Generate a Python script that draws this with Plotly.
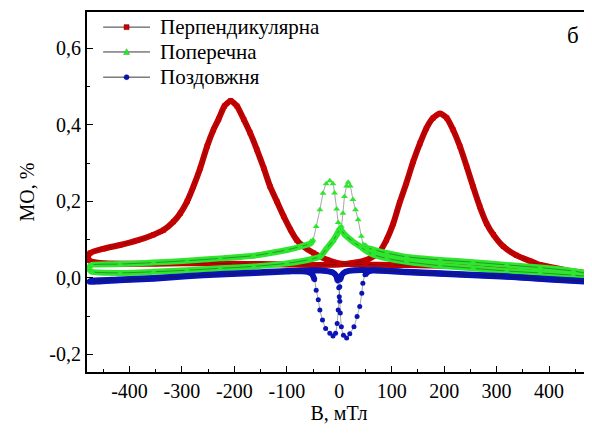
import plotly.graph_objects as go

# ---------------- data ----------------
# Перпендикулярна: sweep + -> -, then - -> +
RED_A_X = [475, 450, 400, 350, 300, 250, 200, 150, 100, 50, 25, 0, -23, -49, -68, -81, -93, -106, -119, -132,
           -144, -157, -170, -182, -195, -207, -219, -230, -240, -252, -265, -278, -290, -303, -316, -335, -354,
           -385, -418, -450, -475]
RED_A_Y = [0.012, 0.016, 0.023, 0.027, 0.029, 0.031, 0.032, 0.033, 0.034, 0.035, 0.036, 0.038, 0.047, 0.065,
           0.082, 0.099, 0.126, 0.161, 0.200, 0.239, 0.287, 0.335, 0.379, 0.414, 0.449, 0.463, 0.449, 0.415,
           0.387, 0.344, 0.287, 0.239, 0.200, 0.169, 0.147, 0.125, 0.113, 0.098, 0.086, 0.076, 0.065]
RED_B_X = [-479, -477, -468, -450, -400, -350, -300, -250, -200, -150, -100, -50, 0, 25, 50, 65, 77, 90, 103, 115,
           128, 141, 154, 166, 179, 192, 205, 217, 230, 243, 255, 268, 281, 294, 313, 338, 364, 383, 415, 446, 475]
RED_B_Y = [0.055, 0.046, 0.041, 0.038, 0.037, 0.037, 0.038, 0.038, 0.037, 0.036, 0.035, 0.034, 0.035, 0.039,
           0.046, 0.056, 0.069, 0.099, 0.142, 0.196, 0.248, 0.304, 0.352, 0.391, 0.418, 0.430, 0.418, 0.387,
           0.344, 0.291, 0.239, 0.186, 0.142, 0.113, 0.082, 0.059, 0.044, 0.034, 0.025, 0.016, 0.011]

# Поперечна
GREEN_A_X = [475, 446, 383, 319, 255, 192, 128, 90, 64, 52, 40, 26, 12, 4, 1, -2, -5, -9, -12, -18,
             -25, -31, -37, -44, -50, -55, -74, -100, -131, -163, -227, -290, -354, -418, -472]
GREEN_A_Y = [0.004, 0.007, 0.013, 0.018, 0.025, 0.032, 0.042, 0.051, 0.061, 0.070, 0.082, 0.095, 0.111,
             0.125, 0.132, 0.145, 0.180, 0.222, 0.246, 0.254, 0.246, 0.221, 0.178, 0.134, 0.099, 0.090,
             0.082, 0.073, 0.065, 0.058, 0.051, 0.045, 0.040, 0.036, 0.034]
GREEN_B_X = [-478, -472, -418, -354, -290, -227, -163, -100, -56, -36, -24, -12, -5, 1, 4, 7, 10, 14, 17, 21,
             26, 31, 36, 42, 46, 52, 65, 90, 128, 192, 255, 319, 383, 446, 475]
GREEN_B_Y = [0.025, 0.016, 0.013, 0.016, 0.020, 0.025, 0.030, 0.038, 0.048, 0.056, 0.077, 0.097, 0.113,
             0.128, 0.135, 0.169, 0.213, 0.240, 0.250, 0.240, 0.205, 0.178, 0.152, 0.109, 0.087, 0.079,
             0.074, 0.065, 0.055, 0.047, 0.041, 0.034, 0.027, 0.018, 0.011]

# Поздовжня
BLUE_A_X = [475, 400, 319, 255, 192, 128, 64, 30, 12, 5, 2, 1, 0, -2, -4, -7, -12, -18, -26, -32,
            -37, -40, -44, -47, -52, -60, -100, -160, -227, -290, -354, -420, -472]
BLUE_A_Y = [-0.010, -0.004, 0.003, 0.007, 0.011, 0.015, 0.020, 0.020, 0.016, 0.008, -0.005, -0.023, -0.049,
            -0.084, -0.119, -0.145, -0.152, -0.145, -0.132, -0.110, -0.084, -0.057, -0.032, -0.005, 0.010,
            0.016, 0.018, 0.014, 0.010, 0.005, 0.000, -0.004, -0.007]
BLUE_B_X = [-476, -420, -354, -290, -227, -160, -100, -50, -25, -12, -6, -3, -1, 1, 2, 4, 8, 14, 20, 28,
            34, 39, 43, 45, 49, 55, 64, 128, 192, 255, 319, 400, 475]
BLUE_B_Y = [-0.010, -0.006, -0.002, 0.004, 0.009, 0.013, 0.017, 0.020, 0.018, 0.014, 0.006, -0.008, -0.026,
            -0.061, -0.092, -0.128, -0.150, -0.157, -0.146, -0.128, -0.101, -0.075, -0.040, -0.014, 0.008,
            0.016, 0.020, 0.016, 0.012, 0.008, 0.004, -0.003, -0.009]

# index ranges (start, end) of the fast-changing parts where the reference shows sparse markers on a thin line
GREEN_A_SPARSE = (14, 24)
GREEN_B_SPARSE = (13, 24)
BLUE_A_SPARSE = (10, 23)
BLUE_B_SPARSE = (11, 24)

SERIES_NAMES = ["Перпендикулярна", "Поперечна", "Поздовжня"]

X_TICKS = [-400, -300, -200, -100, 0, 100, 200, 300, 400]
X_TICK_LABELS = ["-400", "-300", "-200", "-100", "0", "100", "200", "300", "400"]
X_MINOR = [-450, -350, -250, -150, -50, 50, 150, 250, 350, 450]
Y_TICKS = [-0.2, 0.0, 0.2, 0.4, 0.6]
Y_TICK_LABELS = ["-0,2", "0,0", "0,2", "0,4", "0,6"]
Y_MINOR = [-0.1, 0.1, 0.3, 0.5]

X_TITLE = "В, мТл"
Y_TITLE = "МО, %"
PANEL_LABEL = "б"

# ---------------- figure ----------------
FONT = "Liberation Serif"


def band(ys, sparse):
    """Copy of ys with the interior of the sparse range blanked (no thick band there)."""
    out = list(ys)
    if sparse:
        for i in range(sparse[0] + 1, sparse[1]):
            out[i] = None
    return out


series = [
    (SERIES_NAMES[0], RED_A_X, RED_A_Y, None, RED_B_X, RED_B_Y, None,
     "#c40000", "#900000", "square", 5),
    (SERIES_NAMES[1], GREEN_A_X, GREEN_A_Y, GREEN_A_SPARSE, GREEN_B_X, GREEN_B_Y, GREEN_B_SPARSE,
     "#2ee62e", "#1fb01f", "triangle-up", 6),
    (SERIES_NAMES[2], BLUE_A_X, BLUE_A_Y, BLUE_A_SPARSE, BLUE_B_X, BLUE_B_Y, BLUE_B_SPARSE,
     "#0a14b4", "#060c80", "circle", 5),
]

fig = go.Figure()
for name, ax, ay, asp, bx, by, bsp, col, dark, sym, ms in series:
    xs = ax + bx
    ys = ay + by
    band_y = band(ay, asp) + band(by, bsp)
    fig.add_trace(go.Scatter(x=xs, y=band_y, mode="lines", showlegend=False, hoverinfo="skip",
                             connectgaps=False,
                             line=dict(color=col, width=6, shape="spline", smoothing=0.5)))
    fig.add_trace(go.Scatter(x=xs, y=ys, mode="lines+markers", name=name, showlegend=False,
                             line=dict(color="rgba(30,30,30,0.5)", width=0.8, shape="spline", smoothing=0.5),
                             marker=dict(symbol=sym, size=ms, color=col,
                                         line=dict(color=col, width=0))))

# ---- legend drawn as shapes + text (tight line spacing like the reference) ----
PLOT_W, PLOT_H = 504.0, 360.0          # plot-area size in px
LEG_X0, LEG_X1, LEG_TEXT_X = 0.032, 0.125, 0.140
LEG_Y = [0.958, 0.889, 0.819]
shapes = []
annotations = []
for (name, *_rest), yy in zip(series, LEG_Y):
    col, dark, sym = _rest[6], _rest[7], _rest[8]
    shapes.append(dict(type="line", xref="paper", yref="paper", x0=LEG_X0, x1=LEG_X1, y0=yy, y1=yy,
                       line=dict(color="#3a3a3a", width=1)))
    cx = (LEG_X0 + LEG_X1) / 2
    hx, hy = 2.5 / PLOT_W, 2.5 / PLOT_H
    if sym == "square":
        shapes.append(dict(type="rect", xref="paper", yref="paper", x0=cx - hx, x1=cx + hx,
                           y0=yy - hy, y1=yy + hy, fillcolor=col, line=dict(color=dark, width=0.5)))
    elif sym == "circle":
        shapes.append(dict(type="circle", xref="paper", yref="paper", x0=cx - hx, x1=cx + hx,
                           y0=yy - hy, y1=yy + hy, fillcolor=col, line=dict(color=dark, width=0.5)))
    else:
        shapes.append(dict(type="path", xref="paper", yref="paper",
                           path=f"M {cx - 1.2 * hx},{yy - hy} L {cx + 1.2 * hx},{yy - hy} L {cx},{yy + 1.3 * hy} Z",
                           fillcolor=col, line=dict(color=dark, width=0.5)))
    annotations.append(dict(text=name, xref="paper", yref="paper", x=LEG_TEXT_X, y=yy,
                            xanchor="left", yanchor="middle", showarrow=False,
                            font=dict(family=FONT, size=21, color="black")))

annotations.append(dict(text=PANEL_LABEL, xref="paper", yref="paper", x=0.964, y=0.936,
                        xanchor="center", yanchor="middle", showarrow=False,
                        font=dict(family=FONT, size=23, color="black")))

axis_common = dict(showline=True, linecolor="black", linewidth=2, mirror=True, showgrid=False,
                   zeroline=False, ticks="inside", ticklen=6, tickwidth=1, tickcolor="black",
                   automargin=False,
                   tickfont=dict(family=FONT, size=20, color="black"))

# the page body has an 8 px margin, so the figure is sized/placed to fill the 592x435 window
fig.update_layout(
    width=584, height=427,
    margin=dict(l=79, r=1, t=4, b=63),
    paper_bgcolor="white", plot_bgcolor="white",
    font=dict(family=FONT, color="black"),
    showlegend=False,
    xaxis=dict(range=[-481, 480], tickmode="array", tickvals=X_TICKS, ticktext=X_TICK_LABELS,
               minor=dict(tickmode="array", tickvals=X_MINOR, ticks="inside", ticklen=3, tickcolor="black"),
               title=dict(text=X_TITLE, font=dict(family=FONT, size=20), standoff=4),
               **axis_common),
    yaxis=dict(range=[-0.246, 0.695], tickmode="array", tickvals=Y_TICKS, ticktext=Y_TICK_LABELS,
               minor=dict(tickmode="array", tickvals=Y_MINOR, ticks="inside", ticklen=3, tickcolor="black"),
               title=dict(text=Y_TITLE, font=dict(family=FONT, size=20), standoff=9),
               **axis_common),
    shapes=shapes,
    annotations=annotations,
)

fig.write_html("out.html")
